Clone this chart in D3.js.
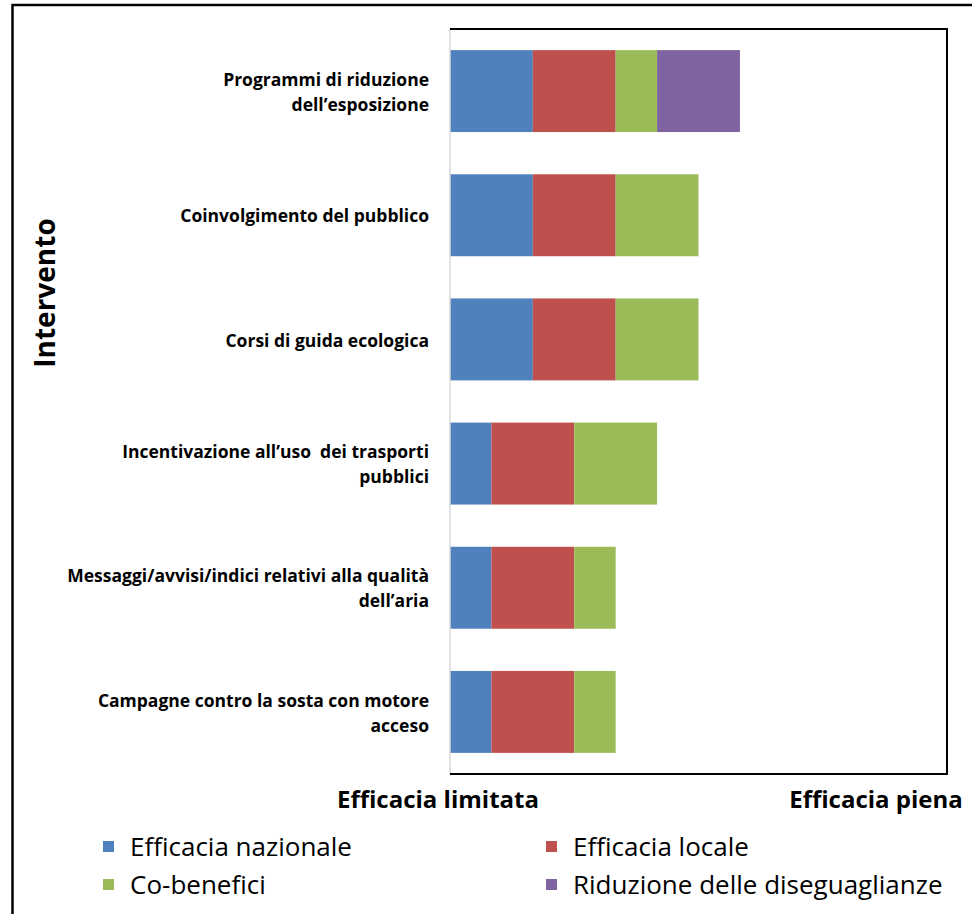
<!DOCTYPE html>
<html>
<head>
<meta charset="utf-8">
<script src="https://cdn.jsdelivr.net/npm/d3@7"></script>
<style>
  html, body { margin: 0; padding: 0; background: #fff; }
  svg { display: block; }
  text { font-family: "Open Sans", Lato, sans-serif; fill: #000; }
</style>
</head>
<body>
<svg id="chart" width="972" height="914"></svg>
<script>
// ---- data ----
const categories = [
  "Programmi di riduzione\ndell\u2019esposizione",
  "Coinvolgimento del pubblico",
  "Corsi di guida ecologica",
  "Incentivazione all\u2019uso  dei trasporti\npubblici",
  "Messaggi/avvisi/indici relativi alla qualità\ndell\u2019aria",
  "Campagne contro la sosta con motore\nacceso"
];
const seriesNames = ["Efficacia nazionale", "Efficacia locale", "Co-benefici", "Riduzione delle diseguaglianze"];
const efficaciaNazionale = [2, 2, 2, 1, 1, 1];
const efficaciaLocale    = [2, 2, 2, 2, 2, 2];
const coBenefici         = [1, 2, 2, 2, 1, 1];
const riduzioneDiseg     = [2, 0, 0, 0, 0, 0];
const colors = ["#4F81BD", "#C0504D", "#9BBB59", "#8064A2"];
const axisEnds = ["Efficacia limitata", "Efficacia piena"];
const yTitle = "Intervento";

const rows = categories.map((c, i) => ({
  cat: c,
  [seriesNames[0]]: efficaciaNazionale[i],
  [seriesNames[1]]: efficaciaLocale[i],
  [seriesNames[2]]: coBenefici[i],
  [seriesNames[3]]: riduzioneDiseg[i]
}));

const svg = d3.select("#chart");
const L = 450, R = 947, T = 29, B = 774;

const x = d3.scaleLinear().domain([0, 12]).range([L, R]);
const y = d3.scaleBand().domain(categories).range([T, B]).paddingInner(0.34).paddingOuter(0.17);

// outer frame (cropped)
svg.append("line").attr("x1", 12).attr("x2", 972).attr("y1", 5).attr("y2", 5).attr("stroke", "#000").attr("stroke-width", 2.5);
svg.append("line").attr("x1", 12.5).attr("x2", 12.5).attr("y1", 4).attr("y2", 914).attr("stroke", "#000").attr("stroke-width", 2.5);

// bars
const stack = d3.stack().keys(seriesNames)(rows);
svg.append("g").selectAll("g").data(stack).join("g")
  .attr("fill", (d, i) => colors[i])
  .selectAll("rect").data(d => d.filter(p => p[1] > p[0])).join("rect")
  .attr("x", d => x(d[0]))
  .attr("width", d => x(d[1]) - x(d[0]))
  .attr("y", d => y(d.data.cat))
  .attr("height", y.bandwidth());

// plot frame
svg.append("line").attr("x1", L).attr("x2", L).attr("y1", T).attr("y2", B).attr("stroke", "#d9d9d9").attr("stroke-width", 1.5);
svg.append("path").attr("d", `M${L},${T}H${R}V${B}H${L}`).attr("fill", "none").attr("stroke", "#000").attr("stroke-width", 2);

// category labels
const lab = svg.append("g").attr("font-weight", "bold").attr("font-size", 17.5).attr("text-anchor", "end");
categories.forEach(c => {
  const lines = c.split("\n");
  const cy = y(c) + y.bandwidth() / 2;
  const lh = 25;
  lines.forEach((ln, j) => {
    lab.append("text")
      .attr("x", 429)
      .attr("y", cy + 1 + (j - (lines.length - 1) / 2) * lh)
      .attr("dy", "0.35em")
      .style("white-space", "pre")
      .text(ln);
  });
});

// y title
svg.append("text")
  .attr("transform", "translate(45,293) rotate(-90)")
  .attr("text-anchor", "middle").attr("dy", "0.35em")
  .attr("font-weight", "bold").attr("font-size", 28)
  .text(yTitle);

// x-axis end labels
svg.append("text").attr("x", 438).attr("y", 800).attr("dy", "0.35em").attr("text-anchor", "middle")
  .attr("font-weight", "bold").attr("font-size", 24).text(axisEnds[0]);
svg.append("text").attr("x", 876).attr("y", 800).attr("dy", "0.35em").attr("text-anchor", "middle")
  .attr("font-weight", "bold").attr("font-size", 24).text(axisEnds[1]);

// legend
const legPos = [[103, 847], [546, 847], [103, 885], [546, 885]];
seriesNames.forEach((s, i) => {
  const [lx, ly] = legPos[i];
  svg.append("rect").attr("x", lx).attr("y", ly - 6).attr("width", 11).attr("height", 11).attr("fill", colors[i]);
  svg.append("text").attr("x", lx + 27).attr("y", ly).attr("dy", "0.35em").attr("font-size", 26).text(s);
});
</script>
</body>
</html>
